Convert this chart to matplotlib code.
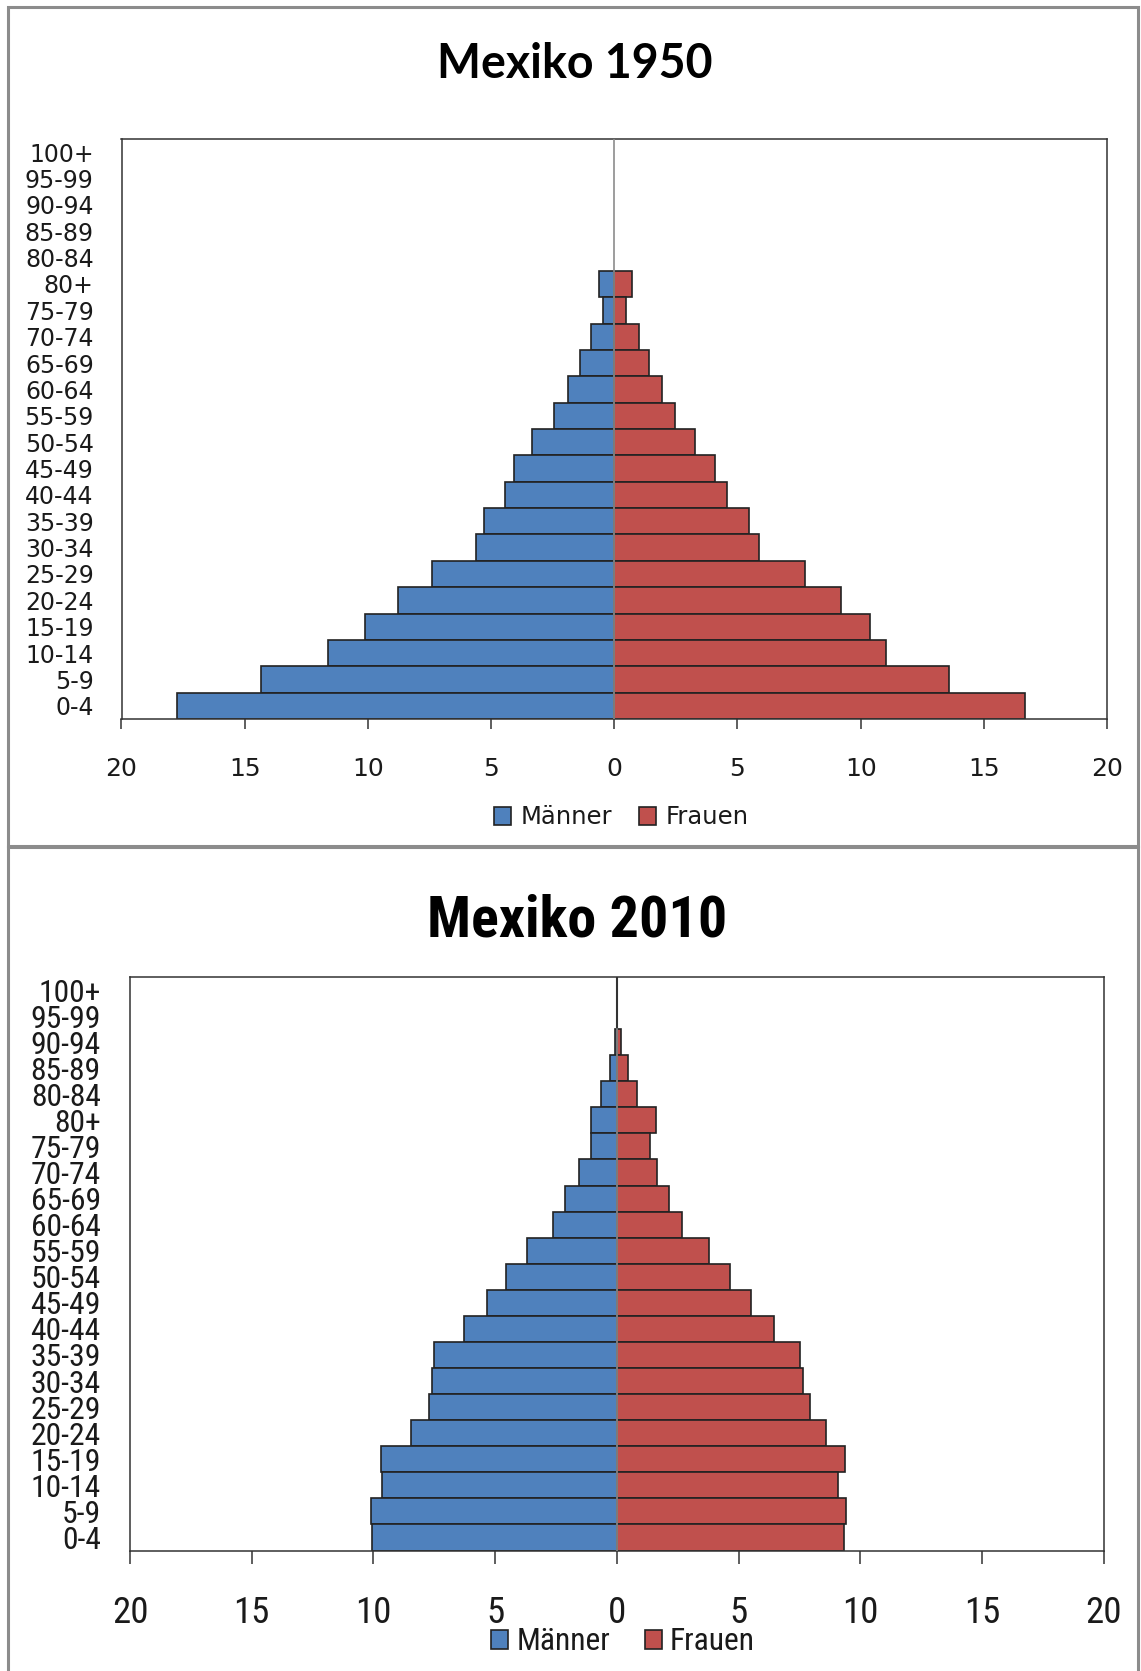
import os
import matplotlib
matplotlib.use("Agg")
import matplotlib.pyplot as plt
from matplotlib import font_manager
from matplotlib.font_manager import FontProperties
from matplotlib.patches import Patch, Rectangle

# age groups, oldest first (as labelled on the axis)
ages = ['100+', '95-99', '90-94', '85-89', '80-84', '80+', '75-79', '70-74',
        '65-69', '60-64', '55-59', '50-54', '45-49', '40-44', '35-39', '30-34',
        '25-29', '20-24', '15-19', '10-14', '5-9', '0-4']

# share of population in percent
maenner_1950 = [0, 0, 0, 0, 0, 0.60, 0.46, 0.93, 1.40, 1.88, 2.46, 3.33, 4.05,
                4.44, 5.27, 5.61, 7.39, 8.77, 10.13, 11.60, 14.34, 17.73]
frauen_1950 = [0, 0, 0, 0, 0, 0.71, 0.46, 1.00, 1.41, 1.94, 2.46, 3.28, 4.09,
               4.57, 5.46, 5.87, 7.75, 9.20, 10.37, 11.01, 13.59, 16.69]
maenner_2010 = [0, 0, 0.09, 0.29, 0.65, 1.05, 1.05, 1.54, 2.13, 2.62, 3.68, 4.55,
                5.32, 6.27, 7.53, 7.58, 7.70, 8.47, 9.71, 9.64, 10.12, 10.06]
frauen_2010 = [0, 0, 0.16, 0.46, 0.82, 1.59, 1.34, 1.66, 2.14, 2.66, 3.80, 4.63,
               5.51, 6.46, 7.53, 7.65, 7.94, 8.60, 9.38, 9.08, 9.42, 9.31]

xticks = [-20, -15, -10, -5, 0, 5, 10, 15, 20]

blue = '#4f81bd'
red = '#c0504d'
edge = '#222222'

W, H = 1141, 1671

installed = {f.name for f in font_manager.fontManager.ttflist}
title_font = 'Lato' if 'Lato' in installed else 'DejaVu Sans'


def narrow_face(bold):
    # look for a condensed / narrow sans face among the installed files
    prefs = [('liberationsansnarrow', 1.0), ('notosans-condensed', 0.95),
             ('robotocondensed', 0.95), ('dejavusanscondensed', 0.85),
             ('opensans-condensed', 0.9), ('opensans_condensed', 0.9)]
    files = [f.fname for f in font_manager.fontManager.ttflist]
    for key, scale in prefs:
        for fn in files:
            base = os.path.basename(fn).lower().replace(' ', '')
            if not base.startswith(key) or 'italic' in base or 'oblique' in base:
                continue
            if any(w in base for w in ('semi', 'extra', 'light', 'thin',
                                       'medium', 'black')):
                continue
            if ('bold' in base) == bold:
                return FontProperties(fname=fn), scale
    return FontProperties(family='DejaVu Sans',
                          weight='bold' if bold else 'normal'), 0.75


nar_reg, k = narrow_face(False)
nar_bold, kb = narrow_face(True)


def fp(base, size):
    p = base.copy()
    p.set_size(size)
    return p


fig = plt.figure(figsize=(W / 100, H / 100), dpi=100)

# grey frames around the two chart panels
fig.add_artist(Rectangle((8 / W, 1 - 846 / H), 1130 / W, 839 / H,
                         transform=fig.transFigure, fill=False,
                         ec='#8c8c8c', lw=2.2))
fig.add_artist(Rectangle((8 / W, -0.01), 1130 / W, 1 - 847 / H + 0.01,
                         transform=fig.transFigure, fill=False,
                         ec='#8c8c8c', lw=2.2))


def pyramid(ax, men, women, yprop, xprop, ypad, xpad, ticklen, dark_axis):
    y = list(range(len(ages)))
    lw_m = [1.2 if v > 0 else 0 for v in men]
    lw_w = [1.2 if v > 0 else 0 for v in women]
    ax.barh(y, [-v for v in men], height=1.0, color=blue, edgecolor=edge,
            linewidth=lw_m, zorder=2)
    ax.barh(y, women, height=1.0, color=red, edgecolor=edge,
            linewidth=lw_w, zorder=2)

    # vertical category axis at zero; grey across the bars
    first = next(i for i, (m, w) in enumerate(zip(men, women)) if m or w)
    top = 1.0
    if dark_axis:
        ax.axvline(0, color='#333333', lw=1.5, zorder=1)
        top = 1 - first / len(ages)
    ax.axvline(0, ymin=0, ymax=top, color='#8c8c8c', lw=1.2, zorder=3)

    ax.set_xlim(-20, 20)
    ax.set_ylim(-0.5, len(ages) - 0.5)
    ax.invert_yaxis()
    ax.set_yticks(y)
    ax.set_yticklabels(ages, fontproperties=yprop, color='#1a1a1a')
    ax.set_xticks(xticks)
    ax.set_xticklabels([str(abs(t)) for t in xticks], fontproperties=xprop,
                       color='#1a1a1a')
    ax.tick_params(axis='y', length=0, pad=ypad)
    ax.tick_params(axis='x', length=ticklen, width=1.1, color='#333333',
                   direction='out', pad=xpad)
    for s in ax.spines.values():
        s.set_color('#333333')
        s.set_linewidth(1.1)


# Mexiko 1950
ax1 = fig.add_axes([121.5 / W, 1 - 719 / H, 985.5 / W, 580 / H])
pyramid(ax1, maenner_1950, frauen_1950,
        FontProperties(family='DejaVu Sans', size=17),
        FontProperties(family='DejaVu Sans', size=18), 20, 20, 7, False)
fig.text(575 / W, 1 - 63.5 / H, 'Mexiko 1950', ha='center', va='center',
         family=title_font, weight='bold', fontsize=33.5, color='black')
fig.legend(handles=[Patch(fc=blue, ec=edge, lw=1.2, label='Männer'),
                    Patch(fc=red, ec=edge, lw=1.2, label='Frauen')],
           loc='center', bbox_to_anchor=(621.5 / W, 1 - 817.5 / H), ncol=2,
           frameon=False, prop={'family': 'DejaVu Sans', 'size': 17.5},
           handlelength=0.7, handleheight=0.7, handletextpad=0.4,
           columnspacing=1.1, borderpad=0, labelcolor='#1a1a1a')

# Mexiko 2010
ax2 = fig.add_axes([130 / W, 1 - 1550.5 / H, 973.8 / W, 573.5 / H])
pyramid(ax2, maenner_2010, frauen_2010, fp(nar_reg, 24 * k),
        fp(nar_reg, 28 * k), 21, 23, 9, True)
fig.text(577 / W, 1 - 921 / H, 'Mexiko 2010', ha='center', va='center',
         fontproperties=fp(nar_bold, 44 * kb), color='black')
fig.legend(handles=[Patch(fc=blue, ec=edge, lw=1.2, label='Männer'),
                    Patch(fc=red, ec=edge, lw=1.2, label='Frauen')],
           loc='center', bbox_to_anchor=(623 / W, 1 - 1642 / H), ncol=2,
           frameon=False, prop=fp(nar_reg, 24 * k),
           handlelength=0.55, handleheight=0.55, handletextpad=0.25,
           columnspacing=1.1, borderpad=0, labelcolor='#1a1a1a')

fig.savefig('out.png', dpi=100)
